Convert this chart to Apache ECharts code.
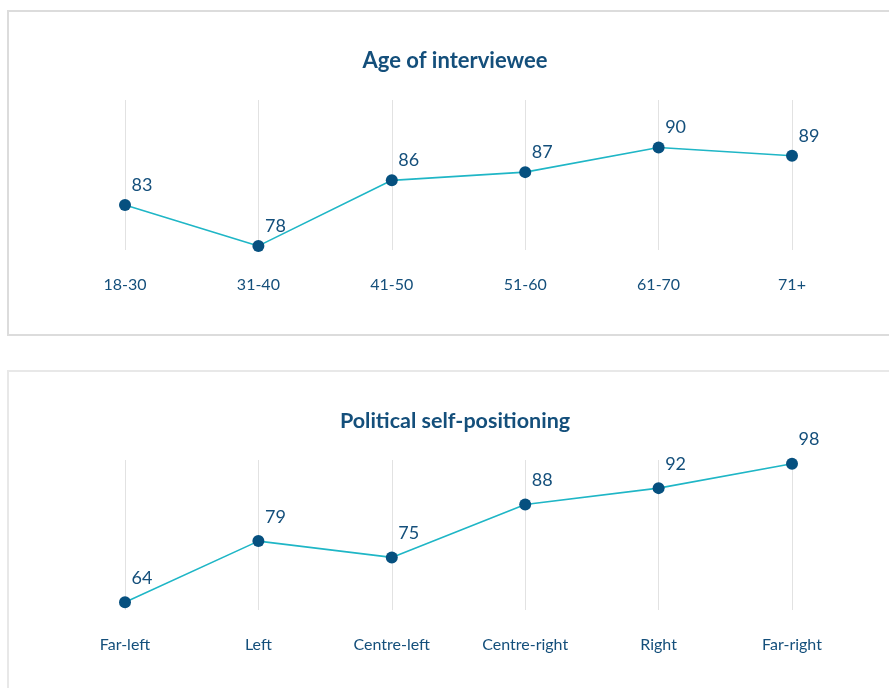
<!DOCTYPE html>
<html>
<head>
<meta charset="utf-8">
<script src="https://cdn.jsdelivr.net/npm/echarts@6/dist/echarts.min.js"></script>
<style>
html,body{margin:0;padding:0;background:#fff;}
#chart{width:889px;height:688px;}
</style>
</head>
<body>
<div id="chart"></div>
<script>
const ageTitle = 'Age of interviewee';
const ageCategories = ['18-30', '31-40', '41-50', '51-60', '61-70', '71+'];
const ageValues = [83, 78, 86, 87, 90, 89];

const polTitle = 'Political self-positioning';
const polCategories = ['Far-left', 'Left', 'Centre-left', 'Centre-right', 'Right', 'Far-right'];
const polValues = [64, 79, 75, 88, 92, 98];

const FONT = 'Lato, "Open Sans", sans-serif';
const DARK = '#144f7b';
const LINE = '#1fb6c6';
const POINT = '#06507f';
const GRIDLINE = '#e2e2e2';

const chart = echarts.init(document.getElementById('chart'), null, {renderer: 'canvas'});

function xAxis(gridIndex, cats) {
  return {
    type: 'category', gridIndex: gridIndex, data: cats, boundaryGap: false,
    axisLine: {show: false}, axisTick: {show: false},
    splitLine: {show: true, lineStyle: {color: GRIDLINE, width: 1}},
    axisLabel: {color: DARK, fontFamily: FONT, fontSize: 16, margin: 27}
  };
}
function yAxis(gridIndex, min, max) {
  return {type: 'value', gridIndex: gridIndex, min: min, max: max, show: false, splitLine: {show: false}};
}
function series(idx, vals, offset) {
  return {
    type: 'line', xAxisIndex: idx, yAxisIndex: idx, data: vals,
    symbol: 'circle', symbolSize: 12,
    lineStyle: {color: LINE, width: 1.6},
    itemStyle: {color: POINT},
    label: {show: true, position: 'top', offset: offset, color: DARK, fontFamily: FONT, fontSize: 18},
    silent: true, animation: false
  };
}

chart.setOption({
  animation: false,
  grid: [
    {left: 125, right: 97, top: 100, height: 150},
    {left: 125, right: 97, top: 460, height: 150}
  ],
  xAxis: [xAxis(0, ageCategories), xAxis(1, polCategories)],
  yAxis: [yAxis(0, 77.5, 95.8), yAxis(1, 62.1, 98.9)],
  series: [series(0, ageValues, [17, 0]), series(1, polValues, [17, -4])],
  graphic: [
    {type: 'rect', shape: {x: 8, y: 11, width: 1000, height: 324}, style: {fill: 'none', stroke: '#dcdcdc', lineWidth: 2}, silent: true},
    {type: 'rect', shape: {x: 8, y: 371, width: 1000, height: 400}, style: {fill: 'none', stroke: '#e8e8e8', lineWidth: 2}, silent: true},
    {type: 'text', x: 455, y: 61, style: {text: ageTitle, align: 'center', verticalAlign: 'middle', fill: DARK, font: 'bold 22px ' + FONT}, silent: true},
    {type: 'text', x: 455, y: 421, style: {text: polTitle, align: 'center', verticalAlign: 'middle', fill: DARK, font: 'bold 21.5px ' + FONT}, silent: true}
  ]
});
</script>
</body>
</html>
